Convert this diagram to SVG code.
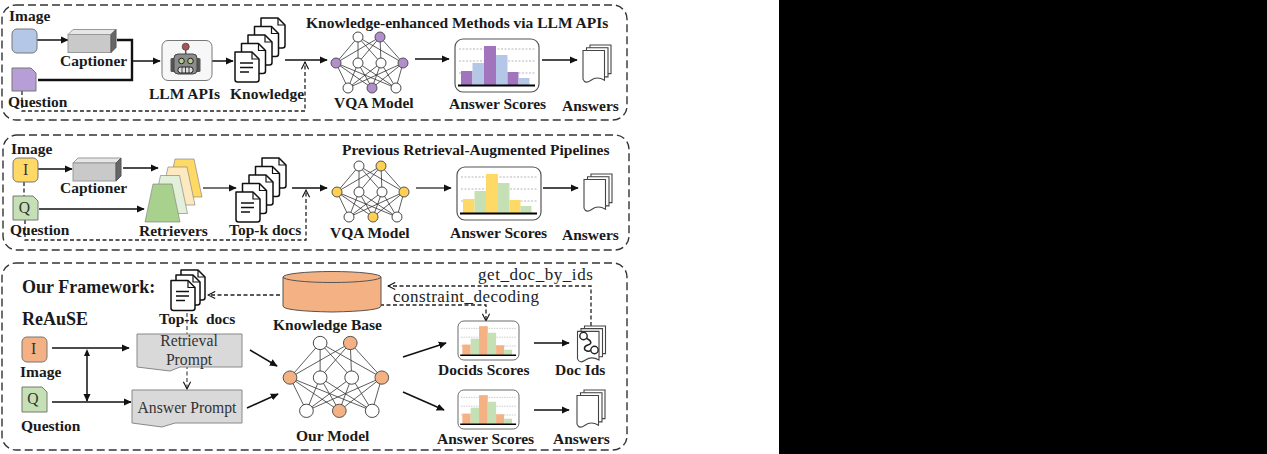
<svg xmlns="http://www.w3.org/2000/svg" xmlns:xlink="http://www.w3.org/1999/xlink" width="1267" height="454" viewBox="0 0 1267 454">
<style>
text{font-family:"Liberation Serif","Times New Roman",serif;fill:#1a1a1a}
.b{font-weight:bold;font-size:15.5px}
.h{font-weight:bold;font-size:18px}
.r{font-size:15.700px;fill:#333}
.panel{fill:#fff;stroke:#333;stroke-width:1.4;stroke-dasharray:8 4}
.a{fill:none;stroke:#111;stroke-width:1.5;marker-end:url(#ah)}
.g{fill:none;stroke:#444;stroke-width:1.5;marker-end:url(#ah)}
.t{fill:none;stroke:#111;stroke-width:2.4}
.d{fill:none;stroke:#222;stroke-width:1.3;stroke-dasharray:4 2.5;marker-end:url(#oh)}
.doc{fill:#fff;stroke:#111;stroke-width:1.5;stroke-linejoin:round}
.pg{fill:#fff;stroke:#444;stroke-width:1.1}
.e{stroke:#333;stroke-width:.8;vector-effect:non-scaling-stroke}
.n{fill:#fff;stroke:#333;stroke-width:.9;vector-effect:non-scaling-stroke}
.c{fill:currentColor;stroke:#444;stroke-width:.9;vector-effect:non-scaling-stroke}
.grid{stroke:#999;stroke-width:.7;stroke-dasharray:2 1.5}
.prompt{fill:#d9d9d9;stroke:#888;stroke-width:1}
</style>
<defs>
<marker id="ah" viewBox="0 0 10 10" refX="9" refY="5" markerWidth="8" markerHeight="8" markerUnits="userSpaceOnUse" orient="auto"><path d="M0 0.5L10 5L0 9.5z" fill="#111"/></marker>
<marker id="oh" viewBox="0 0 10 10" refX="9" refY="5" markerWidth="9" markerHeight="9" markerUnits="userSpaceOnUse" orient="auto"><path d="M1 1L9 5L1 9" fill="none" stroke="#111" stroke-width="1.2"/></marker>
<g id="net">
<path class="e" fill="none" d="M22 0L0 26M22 0L22 26M22 0L45 26M22 0L67 26M44 0L0 26M44 0L22 26M44 0L45 26M44 0L67 26M0 26L12 51M0 26L36 51M0 26L60 51M22 26L12 51M22 26L36 51M22 26L60 51M45 26L12 51M45 26L36 51M45 26L60 51M67 26L12 51M67 26L36 51M67 26L60 51"/>
<circle class="n" cx="22" cy="0" r="5"/><circle class="c" cx="44" cy="0" r="5"/>
<circle class="c" cx="0" cy="26" r="5"/><circle class="n" cx="22" cy="26" r="5"/><circle class="n" cx="45" cy="26" r="5"/><circle class="c" cx="67" cy="26" r="5"/>
<circle class="n" cx="12" cy="51" r="5"/><circle class="c" cx="36" cy="51" r="5"/><circle class="n" cx="60" cy="51" r="5"/>
</g>
<g id="chart">
<rect x="0" y="0" width="84" height="53" rx="8" fill="#fff" stroke="#555" stroke-width="1.200"/>
<path class="grid" d="M4 10H80M4 22H80M4 34H80"/>
<rect x="6" y="32" width="11.500" height="14" style="fill:var(--a)"/><rect x="17.500" y="24" width="11.500" height="22" style="fill:var(--b)"/><rect x="29" y="7" width="12" height="39" style="fill:var(--a)"/><rect x="41" y="16" width="11.500" height="30" style="fill:var(--b)"/><rect x="52.500" y="33" width="11" height="13" style="fill:var(--a)"/><rect x="63.500" y="39" width="11" height="7" style="fill:var(--b)"/>
<path d="M3 46.500H80" stroke="#000" stroke-width="2"/>
</g>
<g id="page"><path class="doc" d="M0 0H17L24 7V27.500Q24 30 21.500 30H2.500Q0 30 0 27.500z"/><path fill="none" stroke="#111" stroke-width="1.200" d="M17 0V7H24"/></g>
<g id="frontdoc"><use xlink:href="#page"/><path stroke="#111" stroke-width="1.300" d="M5 11H18M5 15.500H18M5 20H14"/></g>
<g id="ans"><path class="pg" d="M7 0H28V26H24V3H7z"/><path class="pg" d="M3.500 2.500H25V29H21V6H3.500z"/><path class="pg" d="M0 5H21.500V32Q14 28 8 32T0 31z"/></g>
<g id="cube"><path d="M0 5L5 0H48L43 5z" fill="#e6e6e6" stroke="#999"/><rect x="0" y="5" width="43" height="18" fill="#c9c9c9" stroke="#999"/><path d="M43 5L48 0V18L43 23z" fill="#666" stroke="#555"/></g>
<path id="trap" d="M8 0H27L35 38H0z"/>
</defs>

<rect id="backdrop" x="779" y="0" width="488" height="454" fill="#000"/>

<g id="panels">
<rect class="panel" x="2" y="5" width="625" height="115" rx="14"/>
<rect class="panel" x="3" y="135" width="626" height="115" rx="14"/>
<rect class="panel" x="2" y="263" width="625" height="187" rx="14"/>
</g>

<g id="connectors">
<path class="a" d="M37 40H68"/>
<path class="t" d="M38 80H132V40H117"/>
<path class="a" d="M132 61H160"/>
<path class="a" d="M212 61H233"/>
<path class="a" d="M285 60H327"/>
<path class="d" d="M22 91V111H305V62"/>
<path class="a" d="M415 59H449"/>
<path class="a" d="M542 60H577"/>

<path class="a" d="M38 169H72"/>
<path class="a" d="M123 168H158"/>
<path class="a" d="M39 209H144"/>
<path class="g" d="M203 188H236"/>
<path class="a" d="M292 188H327"/>
<path class="d" d="M25 220V240H306V190"/>
<path class="d" d="M24 182V196" style="marker-end:none"/>
<path class="g" d="M416 188H451"/>
<path class="a" d="M543 188H578"/>

<path class="a" d="M52 348H129"/>
<path class="a" d="M52 402H131"/>
<path class="a" d="M87 355V401"/>
<path d="M87 349L84 356H90z" fill="#111"/>
<path class="a" d="M250 350L277 366"/>
<path class="a" d="M247 408L278 394"/>
<path class="a" d="M403 357L446 343"/>
<path class="a" d="M403 392L444 410"/>
<path class="a" d="M534 343H569"/>
<path class="a" d="M534 410H569"/>
<path class="d" d="M280 295H208"/>
<path class="d" d="M187 300V389" style="stroke:#555"/>
<path class="d" d="M591 326V286H388"/>
<path class="d" d="M380 305H486V321"/>
</g>

<g id="p1-image"><rect x="12" y="29" width="25" height="24" rx="5" fill="#b4c7e7" stroke="#777"/></g>
<g id="p1-question"><path d="M12 68H31L36 73V91H12z" fill="#b79ed6" stroke="#777"/></g>
<g id="p1-captioner"><use xlink:href="#cube" transform="translate(68 29.500)"/></g>
<g id="p1-llm">
<rect x="162" y="40.500" width="50" height="40" rx="6" fill="#f7f7f7" stroke="#777"/>
<path d="M185.700 47V54" stroke="#555" stroke-width="1.500"/>
<circle cx="185.700" cy="46.700" r="3.500" fill="#b05050" stroke="#555"/>
<rect x="170.500" y="58" width="5" height="14" rx="1.500" fill="#555"/><rect x="195.500" y="58" width="5" height="14" rx="1.500" fill="#555"/>
<rect x="174" y="54" width="23" height="20" rx="4" fill="#8c8c8c" stroke="#444"/>
<circle cx="181.500" cy="61" r="2.800" fill="#b5c98e" stroke="#222"/><circle cx="190.500" cy="61" r="2.800" fill="#b5c98e" stroke="#222"/>
<rect x="178" y="67" width="15" height="6" rx="2.500" fill="#ddd" stroke="#222"/>
<path d="M182 67V73M185.500 67V73M189 67V73" stroke="#222" stroke-width=".8"/>
</g>
<g id="p1-knowledge">
<use xlink:href="#page" transform="translate(261 18)"/><use xlink:href="#page" transform="translate(254.500 26.500)"/><use xlink:href="#page" transform="translate(248 35)"/><use xlink:href="#page" transform="translate(241.500 43.500)"/><use xlink:href="#frontdoc" transform="translate(235 52)"/>
</g>
<g id="p1-vqa" style="color:#b08fcc"><use xlink:href="#net" transform="translate(336 37)"/></g>
<g id="p1-scores" style="--a:#a274bd;--b:#b4c7e7"><use xlink:href="#chart" transform="translate(455 39)"/></g>
<g id="p1-answers"><use xlink:href="#ans" transform="translate(583 45) scale(1 1.100)"/></g>

<g id="p2-image"><rect x="13" y="158" width="25" height="24" rx="5" fill="#ffd966" stroke="#777"/><text class="r" x="25.500" y="175" text-anchor="middle">I</text></g>
<g id="p2-question"><path d="M13 196H33L38 201V220H13z" fill="#c5e0b4" stroke="#777"/><text class="r" x="24.500" y="213" text-anchor="middle">Q</text></g>
<g id="p2-captioner"><use xlink:href="#cube" transform="translate(73 158)"/></g>
<g id="p2-retrievers" stroke="#777" stroke-width=".6">
<use xlink:href="#trap" transform="translate(167 159)" fill="#ffd966"/><use xlink:href="#trap" transform="translate(160 167)" fill="#fde9c0"/><use xlink:href="#trap" transform="translate(152.500 175.500)" fill="#e2f0d9"/><use xlink:href="#trap" transform="translate(145 184)" fill="#a9d18e"/>
</g>
<g id="p2-topk">
<use xlink:href="#page" transform="translate(262 158)"/><use xlink:href="#page" transform="translate(255.500 166.500)"/><use xlink:href="#page" transform="translate(249 175)"/><use xlink:href="#page" transform="translate(242.500 183.500)"/><use xlink:href="#frontdoc" transform="translate(236 192)"/>
</g>
<g id="p2-vqa" style="color:#ffd053"><use xlink:href="#net" transform="translate(337 166)"/></g>
<g id="p2-scores" style="--a:#ffd966;--b:#c5e0b4"><use xlink:href="#chart" transform="translate(457 167)"/></g>
<g id="p2-answers"><use xlink:href="#ans" transform="translate(584 174) scale(1 1.100)"/></g>

<g id="p3-topk">
<use xlink:href="#page" transform="translate(181 270)"/><use xlink:href="#page" transform="translate(176 275)"/><use xlink:href="#frontdoc" transform="translate(171 280.500)"/>
</g>
<g id="p3-kb"><path d="M283 277V306Q283 311 332 312Q381 311 381 306V277z" fill="#f4b183" stroke="#555"/><ellipse cx="332" cy="277" rx="49" ry="5.500" fill="#f4b183" stroke="#555"/></g>
<g id="p3-image"><rect x="22" y="337" width="25" height="25" rx="5" fill="#f4b183" stroke="#777"/><text class="r" x="33.500" y="354" text-anchor="middle">I</text></g>
<g id="p3-question"><path d="M22 387H42L47 392V412H22z" fill="#c5e0b4" stroke="#777"/><text class="r" x="33" y="404" text-anchor="middle">Q</text></g>
<g id="p3-retrieval"><path class="prompt" d="M137 334H242V367H180L170 371L137 367z"/><text class="r" x="189" y="346" text-anchor="middle">Retrieval</text><text class="r" x="189" y="365" text-anchor="middle">Prompt</text></g>
<g id="p3-answer"><path class="prompt" d="M132 390H242V423H175L162 427L132 423z"/><text class="r" x="187" y="413" text-anchor="middle">Answer Prompt</text></g>
<g id="p3-model" style="color:#f4b183"><use xlink:href="#net" transform="translate(290 343) scale(1.370 1.330)"/></g>
<g id="p3-docids" style="--a:#f4b183;--b:#c5e0b4"><use xlink:href="#chart" transform="translate(458 321) scale(.726 .736)"/></g>
<g id="p3-scores" style="--a:#f4b183;--b:#c5e0b4"><use xlink:href="#chart" transform="translate(458 390) scale(.726 .736)"/></g>
<g id="p3-docidsicon"><use xlink:href="#ans" transform="translate(577.500 326) scale(1 1.060)"/>
<path d="M586 338C592 341 592 344 588 345C584 346 583 350 587 351C589 352 590 351 591 350" fill="none" stroke="#222" stroke-width="1.500"/><circle cx="583.500" cy="336" r="3.700" fill="#fff" stroke="#222" stroke-width="1.400"/><circle cx="594.500" cy="350" r="3.700" fill="#fff" stroke="#222" stroke-width="1.400"/></g>
<g id="p3-answers"><use xlink:href="#ans" transform="translate(577 390) scale(1 1.100)"/></g>

<g id="labels">
<text class="b" x="9" y="21">Image</text>
<text class="b" x="60" y="66">Captioner</text>
<text class="b" x="8" y="107">Question</text>
<text class="b" x="149" y="99">LLM APIs</text>
<text class="b" x="230" y="99">Knowledge</text>
<text class="b" x="306" y="28">Knowledge-enhanced Methods via LLM APIs</text>
<text class="b" x="334" y="108">VQA Model</text>
<text class="b" x="449" y="109">Answer Scores</text>
<text class="b" x="562" y="111">Answers</text>
<text class="b" x="11" y="154">Image</text>
<text class="b" x="60" y="193">Captioner</text>
<text class="b" x="10" y="235">Question</text>
<text class="b" x="139" y="236">Retrievers</text>
<text class="b" x="229" y="235">Top-k docs</text>
<text class="b" x="342" y="155">Previous Retrieval-Augmented Pipelines</text>
<text class="b" x="330" y="238">VQA Model</text>
<text class="b" x="450" y="238">Answer Scores</text>
<text class="b" x="562" y="240">Answers</text>
<text class="h" x="22" y="293">Our Framework:</text>
<text class="h" x="22" y="325">ReAuSE</text>
<text class="b" x="159" y="324" style="word-spacing:4px">Top-k docs</text>
<text class="b" x="273" y="330">Knowledge Base</text>
<text class="b" x="20" y="377">Image</text>
<text class="b" x="21" y="431">Question</text>
<text class="b" x="296" y="441">Our Model</text>
<text class="b" x="438" y="375">Docids Scores</text>
<text class="b" x="555" y="375">Doc Ids</text>
<text class="b" x="437" y="444">Answer Scores</text>
<text class="b" x="553" y="444">Answers</text>
<text x="478" y="280" style="font-size:17px;letter-spacing:.55px;fill:#222">get_doc_by_ids</text>
<text x="393" y="302" style="font-size:17px;letter-spacing:.45px;fill:#222">constraint_decoding</text>
</g>
</svg>
